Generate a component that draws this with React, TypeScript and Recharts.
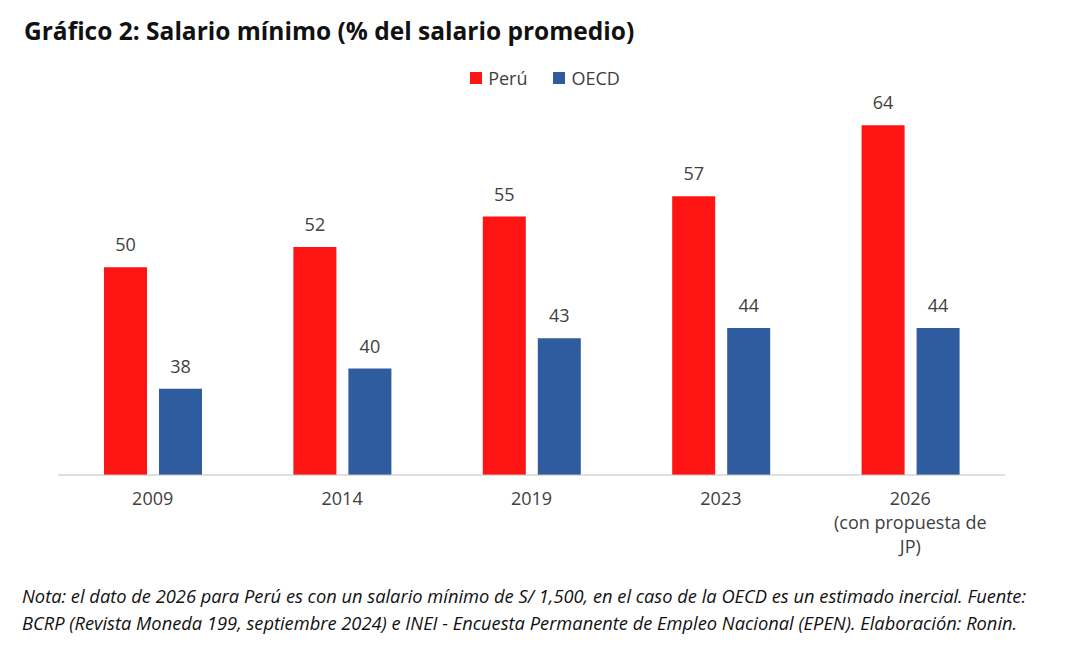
import { BarChart, Bar, XAxis, YAxis, LabelList } from "recharts";

const years = ["2009", "2014", "2019", "2023", "2026"];
const peru = [50, 52, 55, 57, 64];
const oecd = [38, 40, 43, 44, 44];
const tickLines: Record<string, string[]> = {
  "2026": ["2026", "(con propuesta de", "JP)"],
};

const data = years.map((y, i) => ({ year: y, peru: peru[i], oecd: oecd[i] }));
const FONT = "'Open Sans', 'Liberation Sans', sans-serif";

function YearTick({ x, y, payload }: any) {
  const lines = tickLines[payload.value] ?? [payload.value];
  return (
    <text x={x} y={y + 22} textAnchor="middle" fill="#404040" fontSize={18} fontFamily={FONT}>
      {lines.map((l, i) => (
        <tspan key={i} x={x} dy={i === 0 ? 0 : 24}>
          {l}
        </tspan>
      ))}
    </text>
  );
}

export default function App() {
  return (
    <div style={{ position: "relative", width: 1090, height: 648, margin: -8, background: "#fff", fontFamily: FONT }}>
      <div style={{ position: "absolute", left: 24, top: 14, fontSize: 24.5, fontWeight: 700, color: "#111" }}>
        Gráfico 2: Salario mínimo (% del salario promedio)
      </div>
      <div style={{ position: "absolute", top: 66, left: 0, width: 1090, display: "flex", justifyContent: "center", gap: 26, fontSize: 18, color: "#404040", paddingRight: 0, boxSizing: "border-box" }}>
        <span style={{ display: "flex", alignItems: "center", gap: 6 }}>
          <span style={{ width: 12, height: 12, background: "#ff1414", display: "inline-block" }} />Perú
        </span>
        <span style={{ display: "flex", alignItems: "center", gap: 6 }}>
          <span style={{ width: 12, height: 12, background: "#2e5c9e", display: "inline-block" }} />OECD
        </span>
      </div>
      <div style={{ position: "absolute", left: 0, top: 0 }}>
        <BarChart width={1090} height={560} data={data} margin={{ top: 105, right: 85, bottom: 55, left: 58 }} barSize={43} barGap={12}>
          <XAxis dataKey="year" tick={<YearTick />} tickLine={false} axisLine={{ stroke: "#bfbfbf" }} interval={0} />
          <YAxis hide domain={[29.5, 66]} allowDataOverflow />
          <Bar dataKey="peru" fill="#ff1414" isAnimationActive={false}>
            <LabelList dataKey="peru" position="top" offset={16} fill="#404040" fontSize={18} fontFamily={FONT} />
          </Bar>
          <Bar dataKey="oecd" fill="#2e5c9e" isAnimationActive={false}>
            <LabelList dataKey="oecd" position="top" offset={16} fill="#404040" fontSize={18} fontFamily={FONT} />
          </Bar>
        </BarChart>
      </div>
      <div style={{ position: "absolute", left: 22, top: 582, width: 1080, fontSize: 18.3, fontStyle: "italic", color: "#111", lineHeight: "27px", whiteSpace: "nowrap" }}>
        Nota: el dato de 2026 para Perú es con un salario mínimo de S/ 1,500, en el caso de la OECD es un estimado inercial. Fuente:
        <br />
        BCRP (Revista Moneda 199, septiembre 2024) e INEI - Encuesta Permanente de Empleo Nacional (EPEN). Elaboración: Ronin.
      </div>
    </div>
  );
}
